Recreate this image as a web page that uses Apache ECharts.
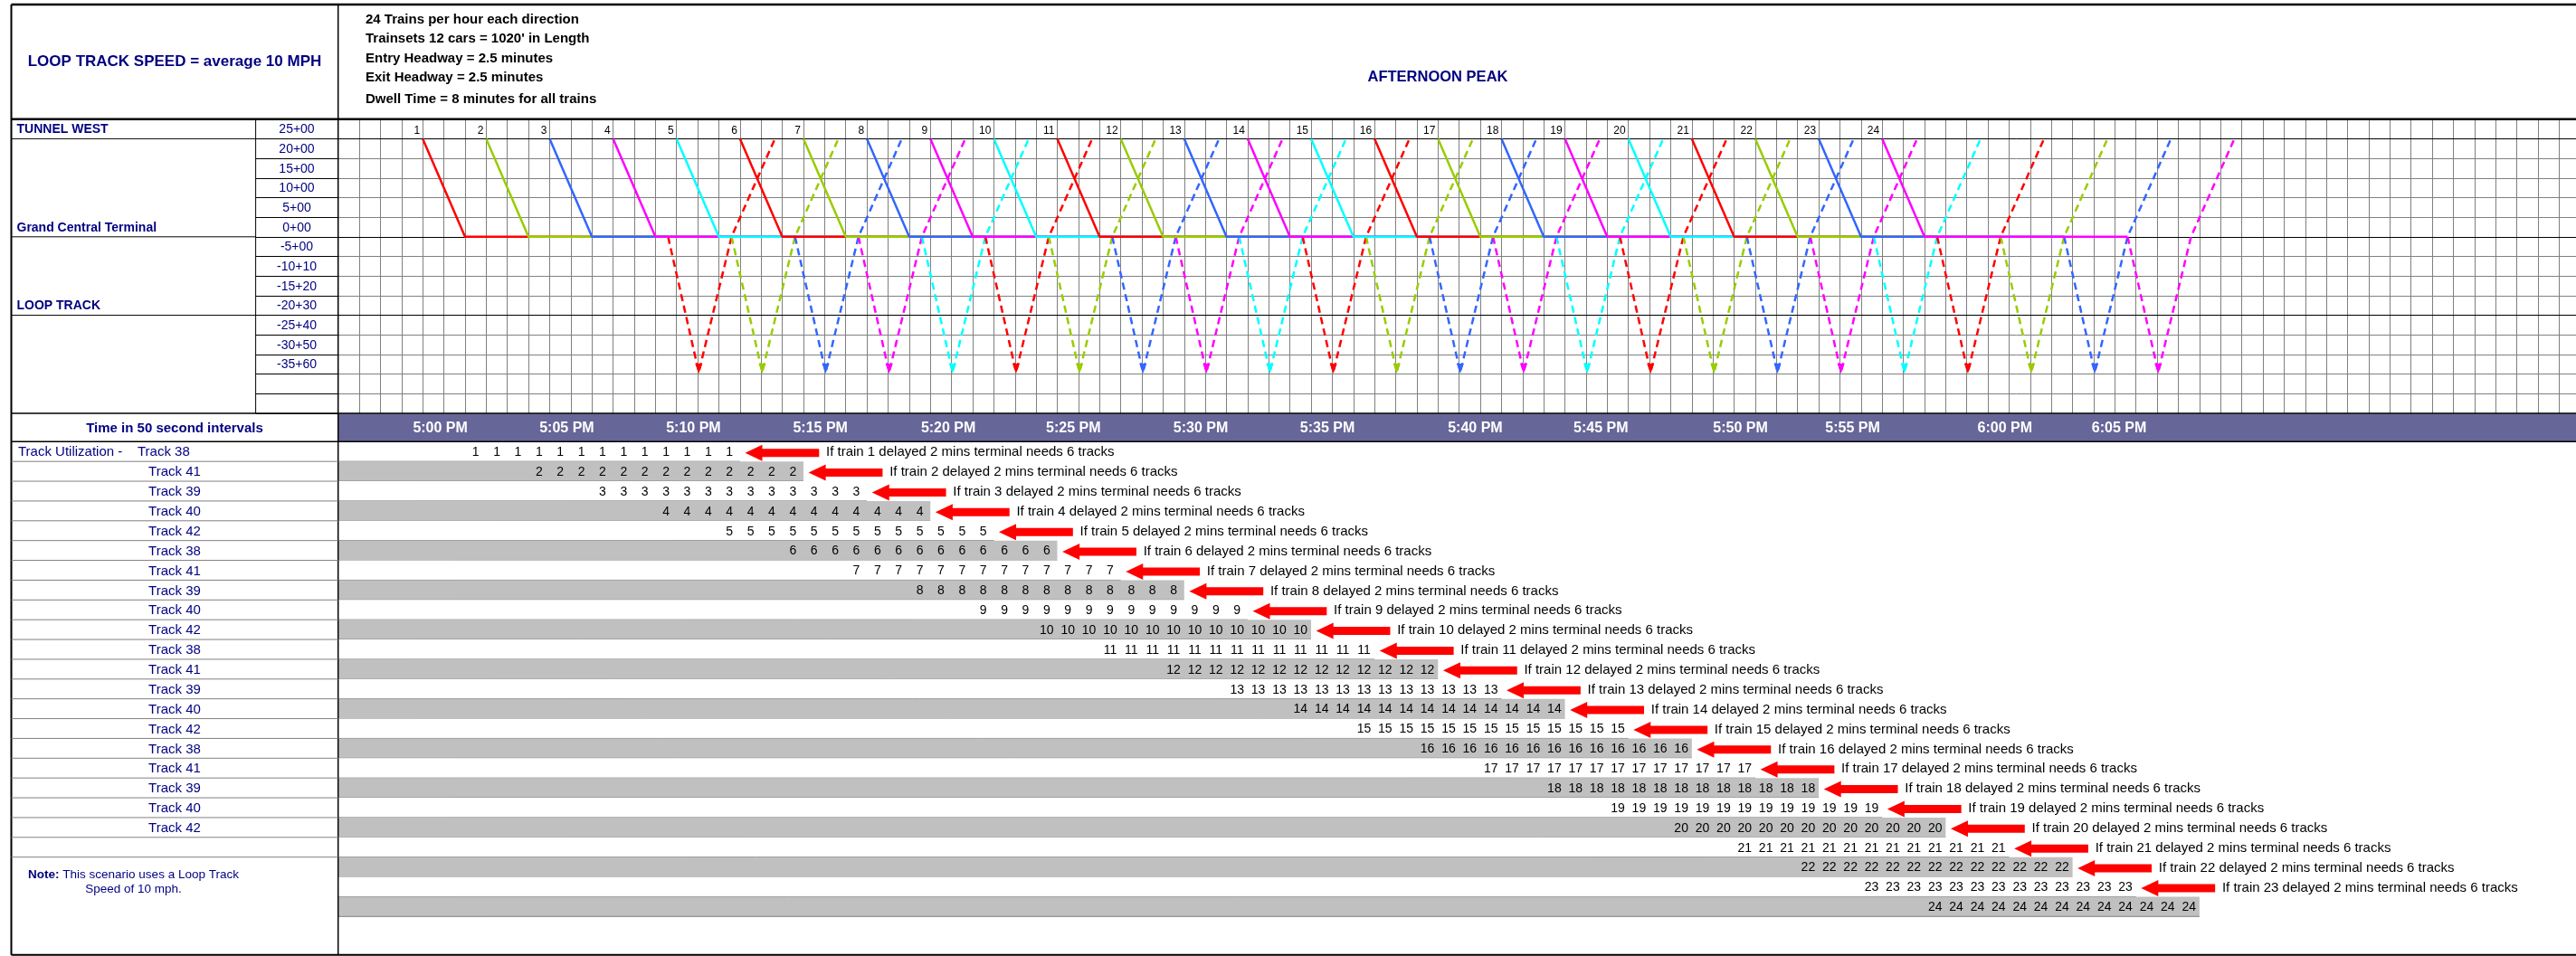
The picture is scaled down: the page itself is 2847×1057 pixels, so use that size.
<!DOCTYPE html>
<html>
<head>
<meta charset="utf-8">
<title>Loop Track Speed - Afternoon Peak</title>
<script src="https://cdn.jsdelivr.net/npm/echarts@6/dist/echarts.min.js"></script>
<style>
  html, body { margin: 0; padding: 0; background: #fff; }
  #chart { width: 2847px; height: 1057px; }
</style>
</head>
<body>
<div id="chart"></div>
<script>
// ---- data (x in 50 second columns, y in station rows) ----
const trainNos = [1, 2, 3, 4, 5, 6, 7, 8, 9, 10, 11, 12, 13, 14, 15, 16, 17, 18, 19, 20, 21, 22, 23, 24];
// entering at Tunnel West (25+00)
const enterCol = [4, 7, 10, 13, 16, 19, 22, 25, 28, 31, 34, 37, 40, 43, 46, 49, 52, 55, 58, 61, 64, 67, 70, 73];
// arriving at Grand Central Terminal (0+00)
const arriveCol = [6, 9, 12, 15, 18, 21, 24, 27, 30, 33, 36, 39, 42, 45, 48, 51, 54, 57, 60, 63, 66, 69, 72, 75];
// leaving the terminal after the dwell
const departCol = [15.6, 18.6, 21.6, 24.6, 27.6, 30.6, 33.6, 36.6, 39.6, 42.6, 45.6, 48.6,
  51.6, 54.6, 57.6, 60.6, 63.6, 66.6, 69.6, 72.6, 75.6, 78.6, 81.6, 84.6];
// far end of the loop track
const loopEndCol = [17.05, 20.05, 23.05, 26.05, 29.05, 32.05, 35.05, 38.05, 41.05, 44.05, 47.05, 50.05,
  53.05, 56.05, 59.05, 62.05, 65.05, 68.05, 71.05, 74.05, 77.05, 80.05, 83.05, 86.05];
// passing 0+00 again on the way out
const loopBackCol = [18.6, 21.6, 24.6, 27.6, 30.6, 33.6, 36.6, 39.6, 42.6, 45.6, 48.6, 51.6,
  54.6, 57.6, 60.6, 63.6, 66.6, 69.6, 72.6, 75.6, 78.6, 81.6, 84.6, 87.6];
// back out at Tunnel West
const exitCol = [20.65, 23.65, 26.65, 29.65, 32.65, 35.65, 38.65, 41.65, 44.65, 47.65, 50.65, 53.65,
  56.65, 59.65, 62.65, 65.65, 68.65, 71.65, 74.65, 77.65, 80.65, 83.65, 86.65, 89.65];

// station rows (line positions on the y axis)
const stationLabels = ["25+00", "20+00", "15+00", "10+00", "5+00", "0+00", "-5+00",
  "-10+10", "-15+20", "-20+30", "-25+40", "-30+50", "-35+60"];
const regionLabels = { 1: "TUNNEL WEST", 6: "Grand Central Terminal", 10: "LOOP TRACK" };
const posTunnelWest = 1;
const posTerminal = 6;
const posLoopEnd = 12.9;

// time header
const timeLabels = ["5:00 PM", "5:05 PM", "5:10 PM", "5:15 PM", "5:20 PM", "5:25 PM", "5:30 PM",
  "5:35 PM", "5:40 PM", "5:45 PM", "5:50 PM", "5:55 PM", "6:00 PM", "6:05 PM"];
const timeCols = [4.83, 10.81, 16.8, 22.8, 28.85, 34.76, 40.78, 46.77, 53.76, 59.7, 66.3, 71.6, 78.8, 84.2];

// track utilization
const trackLabels = ["Track 38", "Track 41", "Track 39", "Track 40", "Track 42",
  "Track 38", "Track 41", "Track 39", "Track 40", "Track 42",
  "Track 38", "Track 41", "Track 39", "Track 40", "Track 42",
  "Track 38", "Track 41", "Track 39", "Track 40", "Track 42"];
const useStartCol = [6, 9, 12, 15, 18, 21, 24, 27, 30, 33, 36, 39, 42, 45, 48, 51, 54, 57, 60, 63, 66, 69, 72, 75];
const useCells = [13, 13, 13, 13, 13, 13, 13, 13, 13, 13, 13, 13, 13, 13, 13, 13, 13, 13, 13, 13, 13, 13, 13, 13];
const noteTrains = [1, 2, 3, 4, 5, 6, 7, 8, 9, 10, 11, 12, 13, 14, 15, 16, 17, 18, 19, 20, 21, 22, 23];

const headerLines = ["24 Trains per hour each direction", "Trainsets 12 cars = 1020' in Length",
  "Entry Headway = 2.5 minutes", "Exit Headway = 2.5 minutes", "Dwell Time = 8 minutes for all trains"];

// ---- layout ----
const FONT = '"Liberation Sans", Arial, sans-serif';
const NAVY = "#000080";
const GRID_GRAY = "#808080";
const palette = ["#FF0000", "#99CC00", "#3366FF", "#FF00FF", "#00FFFF"];

const W = 2847;
const frameLeft = 12.5, frameTop = 5, frameBottom = 1055.7;
const tableLeft = 373.7, stationDiv = 282.6;
const headBottom = 131.7, bandTop = 457, bandBottom = 488.3;
const colW = 23.377;
const X_MAX = (W - tableLeft) / colW;
const rowH1 = (bandTop - headBottom) / 15;
const rowH2 = 21.875;
const Y2_MAX = (frameBottom - bandBottom) / rowH2;

const chart = echarts.init(document.getElementById("chart"));

const xAxisFor = (gridIndex, split) => ({
  type: "value", gridIndex, min: 0, max: X_MAX, interval: 1,
  axisLine: { show: false }, axisTick: { show: false }, axisLabel: { show: false },
  splitLine: { show: split, lineStyle: { color: GRID_GRAY, width: 1 } }
});

const txt = (extra) => Object.assign({ fontFamily: FONT, fill: "#000" }, extra);

// train paths
const trainSeries = [];
trainNos.forEach((no, i) => {
  const color = palette[i % palette.length];
  trainSeries.push({
    name: "Train " + no, type: "line", xAxisIndex: 0, yAxisIndex: 0,
    data: [[enterCol[i], posTunnelWest], [arriveCol[i], posTerminal], [departCol[i], posTerminal]],
    symbol: "none", lineStyle: { color, width: 2.5 }, itemStyle: { color }, z: 3, silent: true
  });
  trainSeries.push({
    name: "Train " + no + " loop", type: "line", xAxisIndex: 0, yAxisIndex: 0,
    data: [
      [departCol[i], posTerminal],
      { value: [loopEndCol[i], posLoopEnd], symbol: "triangle", symbolSize: [8, 11], symbolRotate: 180, symbolOffset: [0, -4] },
      [loopBackCol[i], posTerminal],
      [exitCol[i], posTunnelWest]
    ],
    symbol: "none", showSymbol: true,
    lineStyle: { color, width: 2.5, type: [8, 5] }, itemStyle: { color, borderWidth: 0 }, z: 3, silent: true
  });
});

// utilization cells
const rowData = trainNos.map((no, i) => [useStartCol[i] + useCells[i], i, no]);
const cellData = [];
trainNos.forEach((no, i) => {
  for (let j = 0; j < useCells[i]; j++) cellData.push([useStartCol[i] + j + 0.5, i + 0.5, no]);
});
const noteData = noteTrains.map(no => {
  const i = trainNos.indexOf(no);
  return [useStartCol[i] + useCells[i], i + 0.5, no];
});

// ---- static frame ----
const graphic = [];
const line = (x1, y1, x2, y2, color, width) => graphic.push({
  type: "line", z: 100, silent: true,
  shape: { x1, y1, x2, y2 }, style: { stroke: color, lineWidth: width }
});
const text = (x, y, str, style) => graphic.push({
  type: "text", z: 100, silent: true, x, y,
  style: txt(Object.assign({ text: str }, style))
});

line(frameLeft, frameTop, W, frameTop, "#000", 2.5);
line(frameLeft, frameTop, frameLeft, frameBottom, "#000", 2);
line(frameLeft, frameBottom, W, frameBottom, "#000", 2);
line(frameLeft, headBottom, W, headBottom, "#000", 2.5);
line(tableLeft, frameTop, tableLeft, frameBottom, "#000", 1.5);
line(stationDiv, headBottom, stationDiv, bandTop, "#000", 1);
Object.keys(regionLabels).forEach(v => {
  const y = headBottom + Number(v) * rowH1;
  line(frameLeft, y, stationDiv, y, "#000", 1);
});
line(frameLeft, bandTop, W, bandTop, "#000", 1.5);
line(frameLeft, bandBottom, W, bandBottom, "#000", 1.5);
for (let v = 1; v <= trackLabels.length + 1; v++) {
  const y = bandBottom + v * rowH2;
  line(frameLeft, y, tableLeft, y, GRID_GRAY, 1);
}

text(193, 68, "LOOP TRACK SPEED = average 10 MPH", {
  fill: NAVY, fontSize: 17, fontWeight: "bold", align: "center", verticalAlign: "middle",
  textAlign: "center", textVerticalAlign: "middle"
});
const headerY = [21.7, 43.3, 64.5, 86.3, 109.7];
headerLines.forEach((s, i) => text(404, headerY[i], s, {
  fontSize: 15, fontWeight: "bold", align: "left", verticalAlign: "middle",
  textAlign: "left", textVerticalAlign: "middle"
}));
text(1589, 85, "AFTERNOON PEAK", {
  fill: NAVY, fontSize: 16.5, fontWeight: "bold", align: "center", verticalAlign: "middle",
  textAlign: "center", textVerticalAlign: "middle"
});
text(193, 473.5, "Time in 50 second intervals", {
  fill: NAVY, fontSize: 15, fontWeight: "bold", align: "center", verticalAlign: "middle",
  textAlign: "center", textVerticalAlign: "middle"
});
trackLabels.forEach((s, i) => {
  const y = bandBottom + (i + 0.5) * rowH2 + 1;
  if (i === 0) {
    text(20, y, "Track Utilization -    " + s, {
      fill: NAVY, fontSize: 15, align: "left", verticalAlign: "middle",
      textAlign: "left", textVerticalAlign: "middle"
    });
  } else {
    text(193, y, s, {
      fill: NAVY, fontSize: 15, align: "center", verticalAlign: "middle",
      textAlign: "center", textVerticalAlign: "middle"
    });
  }
});
graphic.push({
  type: "text", z: 100, silent: true, x: 147.5, y: 967,
  style: {
    text: "{b|Note:} This scenario uses a Loop Track", fill: NAVY, fontSize: 13.5, fontFamily: FONT,
    align: "center", verticalAlign: "middle", textAlign: "center", textVerticalAlign: "middle",
    rich: { b: { fontWeight: "bold", fontSize: 13.5, fontFamily: FONT, fill: NAVY, color: NAVY } }
  }
});
text(147.5, 983.5, "Speed of 10 mph.", {
  fill: NAVY, fontSize: 13.5, align: "center", verticalAlign: "middle",
  textAlign: "center", textVerticalAlign: "middle"
});

const option = {
  animation: false,
  backgroundColor: "#fff",
  grid: [
    { left: tableLeft, top: headBottom, width: W - tableLeft, height: bandTop - headBottom },
    { left: tableLeft, top: bandTop, width: W - tableLeft, height: bandBottom - bandTop,
      show: true, backgroundColor: "#666699", borderWidth: 0 },
    { left: tableLeft, top: bandBottom, width: W - tableLeft, height: frameBottom - bandBottom }
  ],
  xAxis: [xAxisFor(0, true), xAxisFor(1, false), xAxisFor(2, false)],
  yAxis: [
    {
      type: "value", gridIndex: 0, min: 0, max: 15, interval: 1, inverse: true,
      axisLine: { show: false },
      axisTick: { show: true, length: tableLeft - stationDiv, lineStyle: { color: "#000", width: 1 } },
      axisLabel: {
        margin: tableLeft - 328, align: "center", verticalAlign: "bottom", padding: [0, 0, 3, 0],
        color: NAVY, fontSize: 14, fontFamily: FONT,
        formatter: v => stationLabels[Math.round(v) - 1] || ""
      },
      splitLine: { show: true, lineStyle: { color: GRID_GRAY, width: 1 } }
    },
    {
      type: "value", gridIndex: 0, min: 0, max: 15, interval: 1, inverse: true, position: "left",
      axisLine: { show: false }, axisTick: { show: false }, splitLine: { show: false },
      axisLabel: {
        margin: tableLeft - 18.5, align: "left", verticalAlign: "bottom", padding: [0, 0, 3, 0],
        color: NAVY, fontSize: 14, fontWeight: "bold", fontFamily: FONT,
        formatter: v => regionLabels[Math.round(v)] || ""
      }
    },
    {
      type: "value", gridIndex: 1, min: 0, max: 1, inverse: true,
      axisLine: { show: false }, axisTick: { show: false }, axisLabel: { show: false }, splitLine: { show: false }
    },
    {
      type: "value", gridIndex: 2, min: 0, max: Y2_MAX, inverse: true,
      axisLine: { show: false }, axisTick: { show: false }, axisLabel: { show: false }, splitLine: { show: false }
    }
  ],
  graphic: { elements: graphic },
  series: [
    {
      name: "Station lines", type: "line", xAxisIndex: 0, yAxisIndex: 0, data: [], z: 1, silent: true,
      markLine: {
        symbol: "none", silent: true, label: { show: false }, z: 1,
        lineStyle: { color: "#000", width: 1, type: "solid" },
        data: Object.keys(regionLabels).map(v => ({ yAxis: Number(v) }))
      }
    },
    {
      name: "Utilization rows", type: "custom", xAxisIndex: 2, yAxisIndex: 3, data: rowData, z: 1, silent: true,
      renderItem: (params, api) => {
        const end = api.value(0), row = api.value(1), no = api.value(2);
        const a = api.coord([0, row]);
        const b = api.coord([end, row + 1]);
        return {
          type: "group", children: [
            { type: "rect", shape: { x: a[0], y: a[1], width: b[0] - a[0], height: b[1] - a[1] },
              style: { fill: no % 2 === 0 ? "#C0C0C0" : "#FFFFFF" } },
            { type: "line", shape: { x1: a[0], y1: b[1], x2: b[0], y2: b[1] },
              style: { stroke: GRID_GRAY, lineWidth: 1 } }
          ]
        };
      }
    },
    ...trainSeries,
    {
      name: "Train numbers", type: "custom", xAxisIndex: 0, yAxisIndex: 0, z: 4, silent: true,
      data: trainNos.map((no, i) => [enterCol[i], posTunnelWest, no]),
      renderItem: (params, api) => {
        const p = api.coord([api.value(0), api.value(1)]);
        return { type: "text", x: p[0] - 3, y: p[1] - 3,
          style: txt({ text: String(api.value(2)), fontSize: 12, align: "right", verticalAlign: "bottom",
            textAlign: "right", textVerticalAlign: "bottom" }) };
      }
    },
    {
      name: "Time labels", type: "custom", xAxisIndex: 1, yAxisIndex: 2, z: 4, silent: true,
      data: timeCols.map((c, i) => [c, 0.5, i]),
      renderItem: (params, api) => {
        const p = api.coord([api.value(0), api.value(1)]);
        return { type: "text", x: p[0], y: p[1] + 1,
          style: txt({ text: timeLabels[api.value(2)], fill: "#FFFFFF", fontSize: 16, fontWeight: "bold",
            align: "center", verticalAlign: "middle", textAlign: "center", textVerticalAlign: "middle" }) };
      }
    },
    {
      name: "Utilization cells", type: "custom", xAxisIndex: 2, yAxisIndex: 3, z: 4, silent: true,
      data: cellData,
      renderItem: (params, api) => {
        const p = api.coord([api.value(0), api.value(1)]);
        return { type: "text", x: p[0], y: p[1] + 1,
          style: txt({ text: String(api.value(2)), fontSize: 14, align: "center", verticalAlign: "middle",
            textAlign: "center", textVerticalAlign: "middle" }) };
      }
    },
    {
      name: "Delay notes", type: "custom", xAxisIndex: 2, yAxisIndex: 3, z: 4, silent: true,
      data: noteData,
      renderItem: (params, api) => {
        const end = api.value(0), y = api.value(1), no = api.value(2);
        const tip = api.coord([end + 0.24, y]);
        const tail = api.coord([end + 3.74, y]);
        const at = api.coord([end + 4.07, y]);
        const x0 = tip[0], x1 = tail[0], yc = tip[1] + 1.5;
        return {
          type: "group", children: [
            { type: "polygon", shape: { points: [[x0, yc], [x0 + 19, yc - 9], [x0 + 19, yc - 4.5], [x1, yc - 4.5],
              [x1, yc + 4.5], [x0 + 19, yc + 4.5], [x0 + 19, yc + 9]] }, style: { fill: "#FF0000" } },
            { type: "text", x: at[0], y: at[1] + 1,
              style: txt({ text: "If train " + no + " delayed 2 mins terminal needs 6 tracks", fontSize: 15,
                align: "left", verticalAlign: "middle", textAlign: "left", textVerticalAlign: "middle" }) }
          ]
        };
      }
    }
  ]
};

chart.setOption(option);
window.addEventListener("resize", () => chart.resize());
</script>
</body>
</html>
